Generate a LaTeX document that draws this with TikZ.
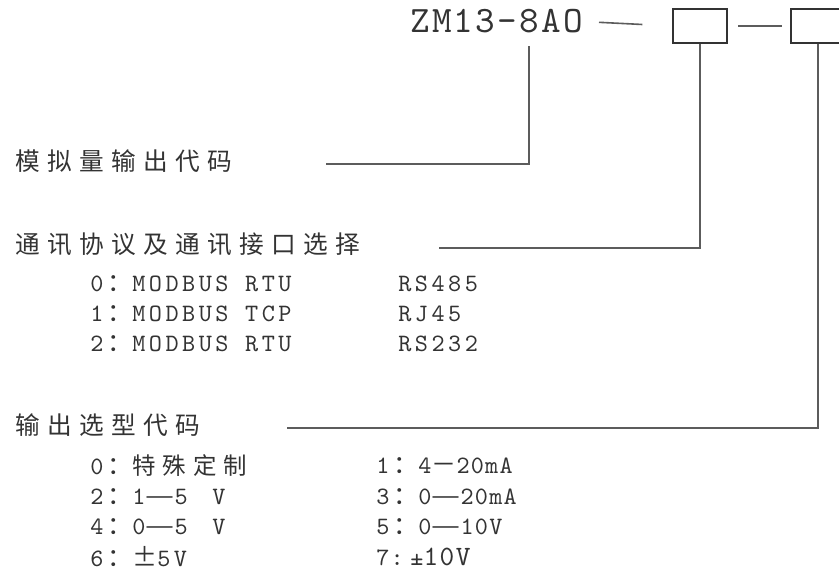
\documentclass[tikz,border=0pt]{standalone}
\usepackage{fontspec}
\newfontfamily\cjk{Noto Sans CJK SC}
\newfontfamily\mono{lmmono10-regular.otf}[LetterSpace=14]
\newfontfamily\monotitel{lmmono10-regular.otf}[LetterSpace=6]
\usepackage{tikz}
\usetikzlibrary{shapes.geometric, arrows}
\definecolor{ink}{HTML}{333333}
\definecolor{wire}{HTML}{5C5C5C}
\newcommand{\fw}[1]{{\cjk #1}}
\newcommand{\dpkt}{\hspace{3pt}{\cjk ：}}
\newcommand{\strich}{{\cjk\addfontfeatures{FakeStretch=1.3}—}}
\tikzstyle{titel} = [anchor=west, inner sep=0pt, text=ink, font=\monotitel\fontsize{28}{28}\selectfont]
\tikzstyle{kopf} = [anchor=west, inner sep=0pt, text=ink, font=\cjk\fontsize{18.5}{20}\selectfont\addfontfeatures{LetterSpace=30}]
\tikzstyle{zeile} = [anchor=west, inner sep=0pt, text=ink, font=\mono\fontsize{18.75}{20}\selectfont]
\tikzstyle{zeileeng} = [zeile, font=\mono\fontsize{18.75}{20}\selectfont\addfontfeatures{LetterSpace=5}]
\tikzstyle{kasten} = [rectangle, draw=ink, line width=0.9pt, minimum width=40.5pt, minimum height=25.5pt, inner sep=0pt]
\tikzstyle{linie} = [draw=wire, line width=1.2pt]

\begin{document}
\begin{tikzpicture}[x=0.75pt, y=-0.75pt]
				\useasboundingbox (0,0) rectangle (839,587);
				
				% typenschild oben
				\node (typ) [titel] at (410,21.5) {ZM13-8AO};
				\node (box1) [kasten] at (700,26) {};
				\node (box2) [kasten] at (818,26) {};
				\coordinate (typfuss) at (529,46);
				
				% linke beschriftungen
				\node (ausgang) [kopf] at (15,161) {模拟量输出代码};
				\node (komm) [kopf] at (15,244) {通讯协议及通讯接口选择};
				\node (wahl) [kopf] at (15,425) {输出选型代码};
				
				\coordinate (ende1) at (326,164);
				\coordinate (ende2) at (439,248);
				\coordinate (ende3) at (287,428);
				
				% protokolle
				\node (p0) [zeile] at (90,284) {0\dpkt MODBUS RTU};
				\node (p1) [zeile] at (90,314) {1\dpkt MODBUS TCP};
				\node (p2) [zeile] at (90,344) {2\dpkt MODBUS RTU};
				\node (s0) [zeile] at (398,284) {RS485};
				\node (s1) [zeile] at (398,314) {RJ45};
				\node (s2) [zeile] at (398,344) {RS232};
				
				% ausgangstypen
				\node (a0) [zeile] at (90,466) {0\dpkt{\cjk\fontsize{17.6}{20}\selectfont\addfontfeatures{LetterSpace=30}特殊定制}};
				\node (a2) [zeile] at (90,497) {2\dpkt 1\strich 5\hspace{6pt} V};
				\node (a4) [zeile] at (90,527) {4\dpkt 0\strich 5\hspace{6pt} V};
				\node (a6) [zeile] at (90,557) {6\dpkt\fw{±}5V};
				\node (a1) [zeileeng] at (376,466) {1\dpkt 4\fw{－}20mA};
				\node (a3) [zeileeng] at (376,497) {3\dpkt 0\strich 20mA};
				\node (a5) [zeileeng] at (376,527) {5\dpkt 0\strich 10V};
				\node (a7) [zeileeng] at (376,557) {7:\hspace{5pt}±{\fontsize{21}{22}\selectfont 10V}};
				
				\draw [linie, shorten <=12pt, shorten >=22.5pt] (typ.east) -- (box1.west);
				\draw [linie, shorten <=8pt, shorten >=6pt] (box1.east) -- (box2.west);
				\draw [linie] (typfuss) |- (ende1);
				\draw [linie] (box1.south) |- (ende2);
				\draw [linie] (box2.south) |- (ende3);
				
				\end{tikzpicture}
\end{document}
